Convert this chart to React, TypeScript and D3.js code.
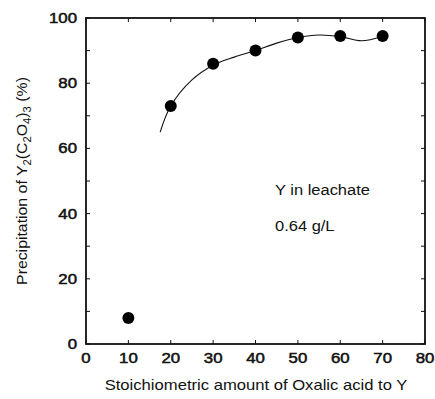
import React, { useEffect, useRef } from "react";
import * as d3 from "d3";

// --- data ---
const ratio = [10, 20, 30, 40, 50, 60, 70];
const precipitation = [8, 73, 86, 90, 94, 94.5, 94.5];

// hand-drawn fit line through the points
const fitX = [17.5, 20, 25, 30, 35, 40, 45, 50, 55, 60, 65, 70];
const fitY = [65, 73, 81, 85.5, 88, 90, 92.3, 94, 94.8, 94.3, 93, 94.3];

const xTicks = [0, 10, 20, 30, 40, 50, 60, 70, 80];
const yTicks = [0, 20, 40, 60, 80, 100];
const yMinorTicks = [0, 10, 20, 30, 40, 50, 60, 70, 80, 90, 100];

const W = 435;
const H = 399;

export default function App() {
    const svgRef = useRef<SVGSVGElement>(null);

    useEffect(() => {
        const svg = d3.select(svgRef.current);
        svg.selectAll("*").remove();

        const margin = { top: 18, right: 10, bottom: 55, left: 86 };
        const x = d3.scaleLinear().domain([0, 80]).range([margin.left, W - margin.right]);
        const y = d3.scaleLinear().domain([0, 100]).range([H - margin.bottom, margin.top]);
        const font = "'Liberation Sans', Arial, sans-serif";
        const tk = 4;

        // the scan is a little stretched sideways, so text is widened to fit
        const fitWidth = (sel: any, px: number, tx: number, ty: number, rot = 0) => {
            const len = (sel.node() as SVGTextElement).getComputedTextLength();
            const s = px / len;
            sel.attr("transform", `translate(${tx},${ty}) rotate(${rot}) scale(${s},1)`);
            return s;
        };

        // --- ticks (inward, all four sides) ---
        const g = svg.append("g").attr("stroke", "#111").attr("stroke-width", 1);
        xTicks.forEach(v => {
            g.append("line").attr("x1", x(v)).attr("x2", x(v)).attr("y1", y(0)).attr("y2", y(0) - tk);
            g.append("line").attr("x1", x(v)).attr("x2", x(v)).attr("y1", y(100)).attr("y2", y(100) + tk);
        });
        yMinorTicks.forEach(v => {
            g.append("line").attr("x1", x(0)).attr("x2", x(0) + tk).attr("y1", y(v)).attr("y2", y(v));
            g.append("line").attr("x1", x(80)).attr("x2", x(80) - tk).attr("y1", y(v)).attr("y2", y(v));
        });

        // --- frame ---
        svg.append("rect")
            .attr("x", x(0)).attr("y", y(100))
            .attr("width", x(80) - x(0)).attr("height", y(0) - y(100))
            .attr("fill", "none").attr("stroke", "#111").attr("stroke-width", 1.8);

        // --- tick labels ---
        const tickSx = 1.2;
        svg.append("g").selectAll("text").data(xTicks).join("text")
            .attr("transform", d => `translate(${x(d)},${y(0) + 19}) scale(${tickSx},1)`)
            .attr("text-anchor", "middle")
            .attr("font-family", font).attr("font-size", 14)
            .attr("stroke", "#111").attr("stroke-width", 0.5)
            .attr("fill", "#111")
            .text(d => d);

        svg.append("g").selectAll("text").data(yTicks).join("text")
            .attr("transform", d => `translate(${x(0) - 9},${y(d) + 5}) scale(${tickSx},1)`)
            .attr("text-anchor", "end")
            .attr("font-family", font).attr("font-size", 14)
            .attr("stroke", "#111").attr("stroke-width", 0.5)
            .attr("fill", "#111")
            .text(d => d);

        // --- axis titles ---
        const xt = svg.append("text")
            .attr("text-anchor", "middle")
            .attr("font-family", font).attr("font-size", 14)
            .attr("fill", "#111")
            .text("Stoichiometric amount of Oxalic acid to Y");
        fitWidth(xt, 303, 256, 390);

        const yt = svg.append("text")
            .attr("text-anchor", "middle")
            .attr("font-family", font).attr("font-size", 14)
            .attr("fill", "#111");
        const parts: [string, boolean][] = [
            ["Precipitation of Y", false], ["2", true], ["(C", false], ["2", true],
            ["O", false], ["4", true], [")", false], ["3", true], [" (%)", false]
        ];
        parts.forEach(([t, sub]) => {
            yt.append("tspan")
                .attr("font-size", sub ? 10 : 14)
                .attr("dy", sub ? 4 : -4)
                .text(t);
        });
        yt.select("tspan").attr("dy", 0);
        fitWidth(yt, 208, 27, 181, -90);

        // --- fitted curve ---
        const line = d3.line<number>()
            .x((_, i) => x(fitX[i]))
            .y(d => y(d))
            .curve(d3.curveCatmullRom.alpha(0.5));
        svg.append("path")
            .attr("d", line(fitY))
            .attr("fill", "none").attr("stroke", "#111").attr("stroke-width", 1.1);

        // --- points ---
        svg.append("g").selectAll("circle").data(precipitation).join("circle")
            .attr("cx", (_, i) => x(ratio[i]))
            .attr("cy", d => y(d))
            .attr("r", 6)
            .attr("fill", "#000");

        // --- annotation ---
        const a1 = svg.append("text")
            .attr("font-family", font).attr("font-size", 14)
            .attr("fill", "#111")
            .text("Y in leachate");
        const s = fitWidth(a1, 95, 275, 195);
        svg.append("text")
            .attr("transform", `translate(275,231) scale(${s},1)`)
            .attr("font-family", font).attr("font-size", 14)
            .attr("fill", "#111")
            .text("0.64 g/L");
    }, []);

    return (
        <svg ref={svgRef} width={W} height={H}
            style={{ position: "absolute", left: 0, top: 0, background: "#fff" }} />
    );
}
